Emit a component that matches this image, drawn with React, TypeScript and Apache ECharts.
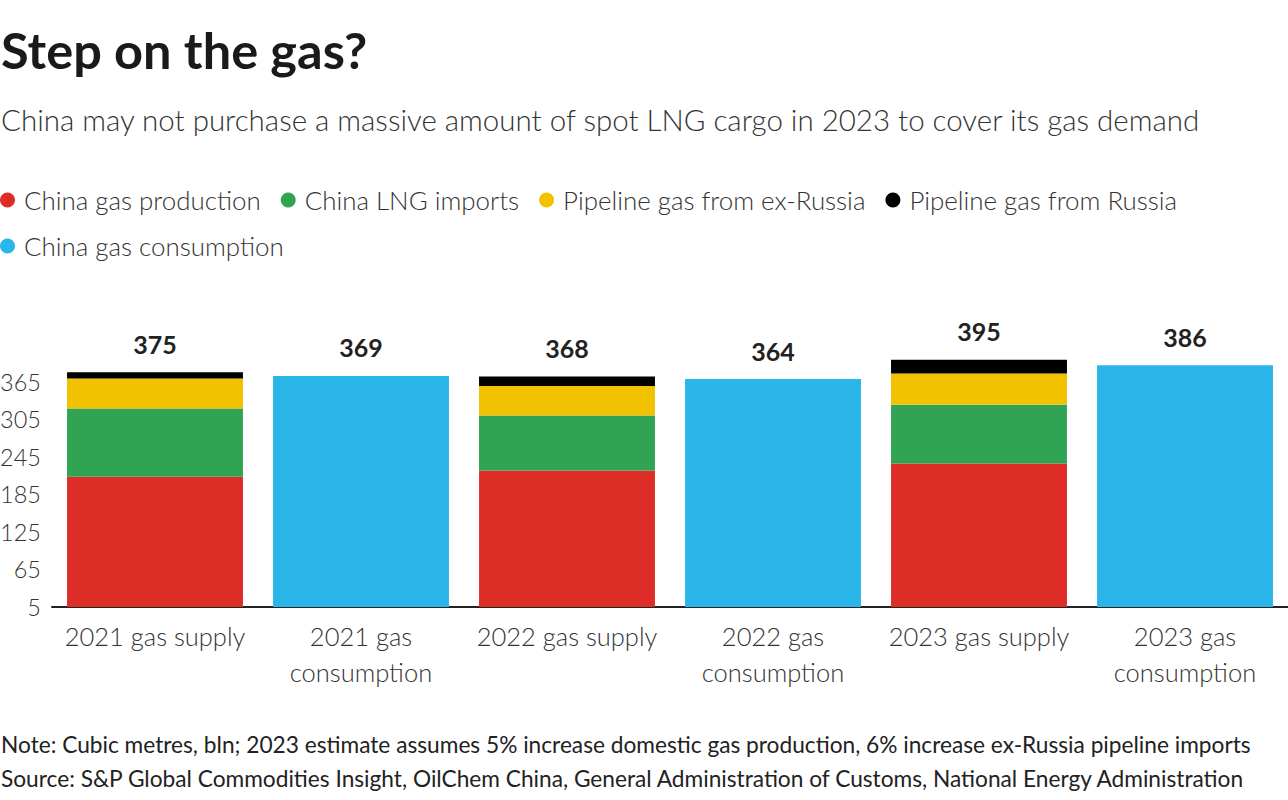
import React, { useEffect, useRef } from "react";
import * as echarts from "echarts";

const categories = [
  "2021 gas supply",
  "2021 gas\nconsumption",
  "2022 gas supply",
  "2022 gas\nconsumption",
  "2023 gas supply",
  "2023 gas\nconsumption",
];
// supply components per year (2021, 2022, 2023), bln cubic metres
const production = [208, 218, 229];
const lngImports = [109, 88, 94];
const pipelineExRussia = [48, 47, 50];
const pipelineRussia = [10, 15, 22];
const consumption = [369, 364, 386];
const yTickLabels = ["5", "65", "125", "185", "245", "305", "365"];

const seriesNames = [
  "China gas production",
  "China LNG imports",
  "Pipeline gas from ex-Russia",
  "Pipeline gas from Russia",
  "China gas consumption",
];
const colors = ["#de2d26", "#31a354", "#f2c200", "#000000", "#2bb6ea"];

const FONT = "Lato, 'Noto Sans', sans-serif";

const supplySlots = (arr: number[]) => {
  const out: (number | null)[] = [];
  arr.forEach((v) => {
    out.push(v, null);
  });
  return out;
};
const consumptionSlots = (arr: number[]) => {
  const out: (number | null)[] = [];
  arr.forEach((v) => {
    out.push(null, v);
  });
  return out;
};
const supplyTotals = production.map(
  (v, i) => v + lngImports[i] + pipelineExRussia[i] + pipelineRussia[i]
);

export default function App() {
  const ref = useRef<HTMLDivElement>(null);
  useEffect(() => {
    if (!ref.current) return;
    const chart = echarts.init(ref.current, null, { renderer: "svg" });
    const totalLabel = {
      show: true,
      position: "top",
      distance: 16,
      fontFamily: FONT,
      fontSize: 25,
      fontWeight: "bold",
      color: "#222222",
    };
    const supplyData = [production, lngImports, pipelineExRussia, pipelineRussia];
    const series: any[] = supplyData.map((arr, i) => ({
      name: seriesNames[i],
      type: "bar",
      stack: "total",
      barCategoryGap: "14.6%",
      data: supplySlots(arr),
      itemStyle: { color: colors[i] },
      label:
        i === 3
          ? {
              ...totalLabel,
              formatter: (p: any) => String(supplyTotals[Math.floor(p.dataIndex / 2)]),
            }
          : { show: false },
    }));
    series.push({
      name: seriesNames[4],
      type: "bar",
      stack: "total",
      barCategoryGap: "14.6%",
      data: consumptionSlots(consumption),
      itemStyle: { color: colors[4] },
      label: { ...totalLabel, formatter: (p: any) => String(p.value) },
    });

    chart.setOption({
      animation: false,
      backgroundColor: "#ffffff",
      color: colors,
      legend: {
        left: 0,
        top: 187,
        width: 1240,
        padding: 0,
        itemGap: 20,
        itemWidth: 15,
        itemHeight: 15,
        icon: "circle",
        selectedMode: false,
        data: seriesNames,
        textStyle: {
          fontFamily: FONT,
          fontSize: 25.9,
          fontWeight: 300,
          color: "#333333",
          padding: [0, 0, 0, 4],
        },
      },
      grid: {
        left: 52,
        right: 0,
        top: 344,
        bottom: 193,
        containLabel: false,
        outerBoundsMode: "none",
      },
      xAxis: {
        type: "category",
        data: categories,
        axisLine: { lineStyle: { color: "#222222", width: 2 } },
        axisTick: { show: false },
        axisLabel: {
          fontFamily: FONT,
          fontSize: 25.5,
          fontWeight: 300,
          color: "#333333",
          lineHeight: 36,
          margin: 11,
          interval: 0,
        },
      },
      yAxis: {
        type: "value",
        min: 0,
        max: 420,
        interval: 60,
        splitLine: { show: false },
        axisLine: { show: false },
        axisTick: { show: false },
        axisLabel: {
          fontFamily: FONT,
          fontSize: 23.5,
          fontWeight: 300,
          color: "#333333",
          margin: 11,
          formatter: (v: number) => yTickLabels[Math.round(v / 60)] ?? "",
        },
      },
      graphic: [
        {
          type: "text",
          left: 1,
          top: 24,
          style: {
            text: "Step on the gas?",
            font: `bold 50.5px ${FONT}`,
            fill: "#1a1a1a",
          },
        },
        {
          type: "text",
          left: 1,
          top: 104,
          style: {
            text: "China may not purchase a massive amount of spot LNG cargo in 2023 to cover its gas demand",
            font: `300 29.5px ${FONT}`,
            fill: "#333333",
          },
        },
        {
          type: "text",
          left: 1,
          top: 733,
          style: {
            text: "Note: Cubic metres, bln; 2023 estimate assumes 5% increase domestic gas production, 6% increase ex-Russia pipeline imports",
            font: `22.7px ${FONT}`,
            fill: "#222222",
          },
        },
        {
          type: "text",
          left: 1,
          top: 767,
          style: {
            text: "Source: S&P Global Commodities Insight, OilChem China, General Administration of Customs, National Energy Administration",
            font: `22.7px ${FONT}`,
            fill: "#222222",
          },
        },
      ],
      series,
    });
    return () => chart.dispose();
  }, []);
  return (
    <div
      ref={ref}
      style={{ position: "absolute", left: 0, top: 0, width: 1288, height: 800 }}
    />
  );
}
